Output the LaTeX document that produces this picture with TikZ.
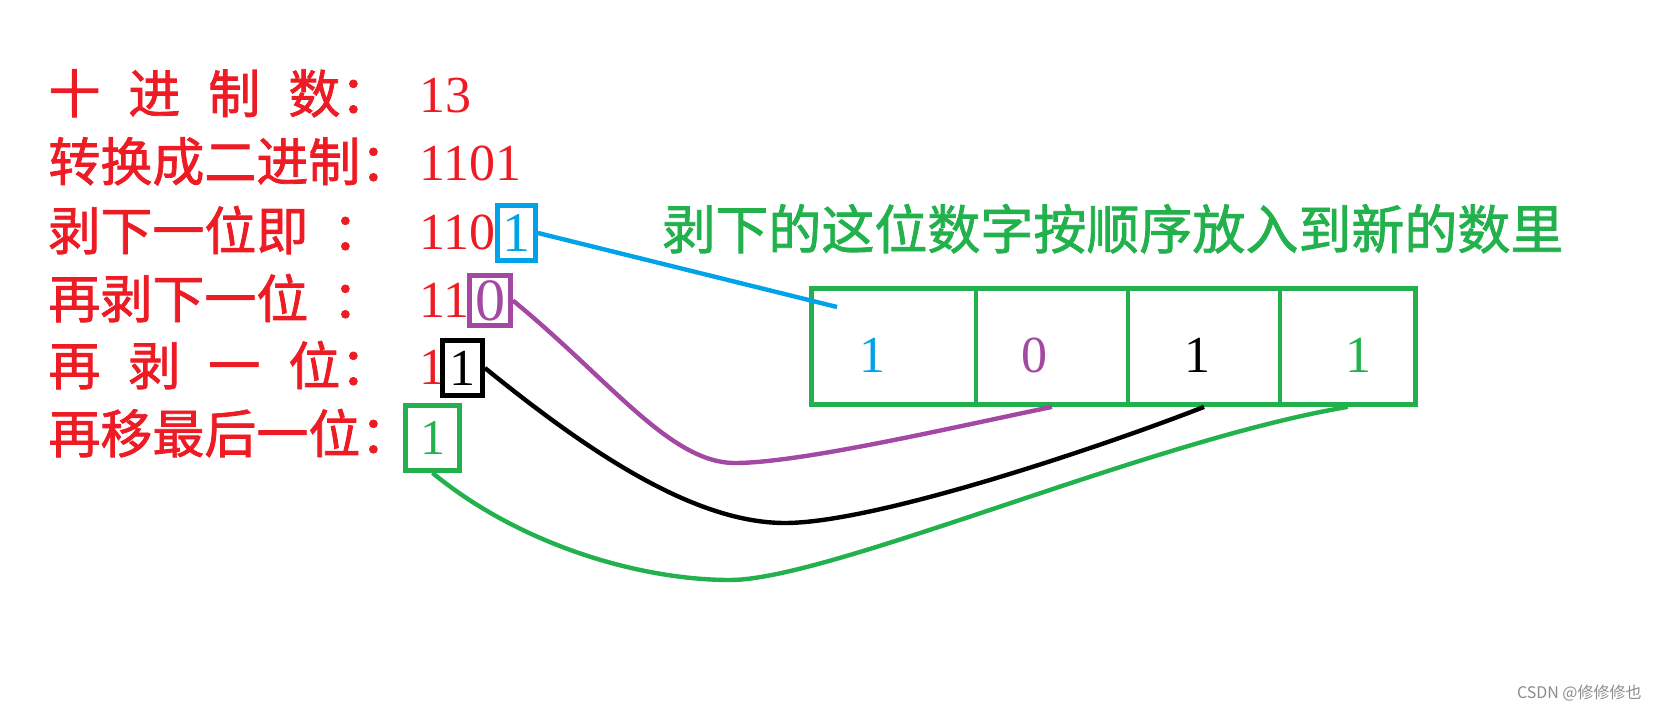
\documentclass[tikz,border=0pt]{standalone}
\usepackage{fontspec}
\setmainfont{Liberation Serif}
\newfontfamily\cjk{Noto Sans CJK SC}
\newfontfamily\cjkmid{Noto Sans CJK SC}[FakeBold=1.5]
\definecolor{paintred}{RGB}{237,28,36}
\definecolor{paintblue}{RGB}{0,162,232}
\definecolor{paintpurple}{RGB}{163,73,164}
\definecolor{paintgreen}{RGB}{34,177,76}

\begin{document}
\begin{tikzpicture}[
    x=0.5pt, y=-0.5pt,
    lbl/.style={anchor=base west, inner sep=0pt, text=paintred, font=\cjkmid\fontsize{26pt}{26pt}\selectfont},
    num/.style={anchor=base west, inner sep=0pt, text=paintred, font=\fontsize{26pt}{26pt}\selectfont},
    bitbox/.style={draw, line width=2.4pt, inner sep=0pt},
    cell/.style={draw=paintgreen, line width=2.4pt, minimum height=58pt, inner sep=0pt},
    digit/.style={anchor=base, inner sep=0pt, font=\fontsize{26pt}{26pt}\selectfont},
    link/.style={line width=2.2pt}
]
\useasboundingbox (0,0) rectangle (1659,715);

\node[lbl] (lblDec) at (48,113) {十\hspace{14pt}进\hspace{14pt}制\hspace{14pt}数：};
\node[num] (numDec) at (419,113) {13};
\node[lbl] (lblBin) at (48,181) {转换成二进制：};
\node[num] (numBin) at (419,181) {1101};
\node[lbl] (lblCutA) at (48,250) {剥下一位即\hspace{12pt}：};
\node[num] (numCutA) at (419,250) {110};
\node[lbl] (lblCutB) at (48,318) {再剥下一位\hspace{12pt}：};
\node[num] (numCutB) at (419,318) {11};
\node[lbl] (lblCutC) at (48,385) {再\hspace{14pt}剥\hspace{14pt}一\hspace{14pt}位：};
\node[num] (numCutC) at (419,385) {1};
\node[lbl] (lblLast) at (48,453) {再移最后一位：};

\node[bitbox, draw=paintblue, text=paintblue, minimum width=19pt, minimum height=27.5pt, font=\fontsize{28pt}{28pt}\selectfont] (bitA) at (516.5,233) {1};
\node[bitbox, draw=paintpurple, text=paintpurple, minimum width=20.5pt, minimum height=25pt, font=\fontsize{30pt}{30pt}\selectfont] (bitB) at (490,300.5) {0};
\node[bitbox, draw=black, text=black, minimum width=20pt, minimum height=27.5pt, font=\fontsize{26pt}{26pt}\selectfont] (bitC) at (462.5,368) {1};
\node[bitbox, draw=paintgreen, text=paintgreen, minimum width=27pt, minimum height=32.5pt, font=\fontsize{25pt}{25pt}\selectfont] (bitD) at (432.5,438) {1};

\node[anchor=base west, inner sep=0pt, text=paintgreen, font=\cjkmid\fontsize{26.5pt}{26.5pt}\selectfont] (title) at (662,249) {剥下的这位数字按顺序放入到新的数里};

\node[cell, minimum width=82.25pt] (cellA) at (893.75,346.5) {};
\node[cell, minimum width=76pt] (cellB) at (1052,346.5) {};
\node[cell, minimum width=76pt] (cellC) at (1204,346.5) {};
\node[cell, minimum width=67.75pt] (cellD) at (1347.75,346.5) {};
\node[digit, text=paintblue] (digA) at (872,373) {1};
\node[digit, text=paintpurple] (digB) at (1034,373) {0};
\node[digit, text=black] (digC) at (1197,373) {1};
\node[digit, text=paintgreen] (digD) at (1358,373) {1};

\coordinate (blueEnd) at (837,307);
\draw[link, paintblue] (bitA.east) -- (blueEnd);
\draw[link, paintpurple] (bitB.east) .. controls (610,380) and (670,463) .. (735,463) .. controls (800,463) and (950,428) .. (cellB.south);
\draw[link, black] (bitC.east) .. controls (580,445) and (690,523) .. (785,523) .. controls (880,523) and (1120,440) .. (cellC.south);
\draw[link, paintgreen] (bitD.south) .. controls (520,545) and (640,580) .. (730,580) .. controls (830,580) and (1150,440) .. (cellD.south);

\node[anchor=base east, inner sep=0pt, text=black!45, font=\cjk\fontsize{8pt}{8pt}\selectfont] (mark) at (1642,698) {CSDN @修修修也};
\end{tikzpicture}
\end{document}
